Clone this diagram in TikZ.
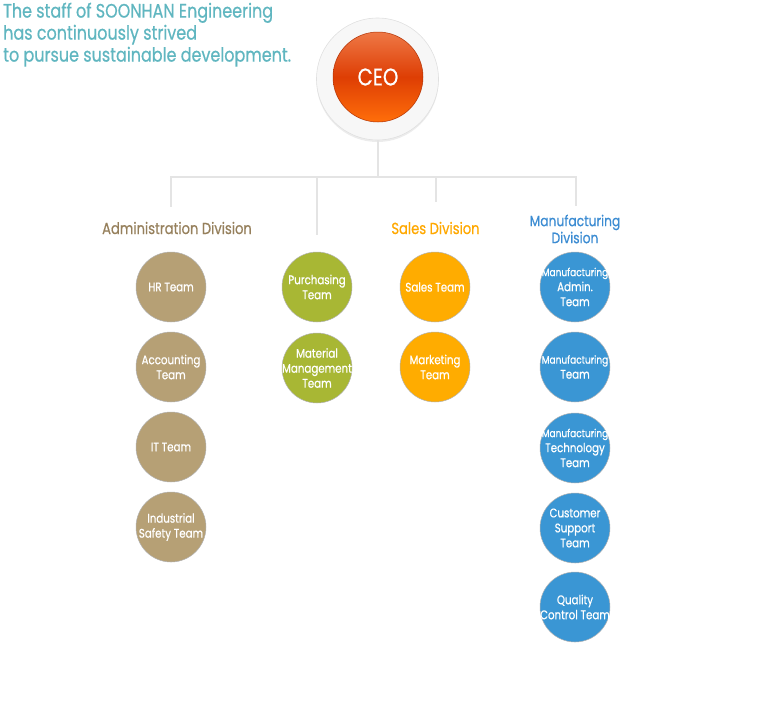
\documentclass[tikz,border=0pt]{standalone}
\usepackage{fontspec}
\setmainfont{Poppins}[FakeStretch=0.82, FakeBold=0.6]
\usetikzlibrary{shadows}
\definecolor{titlec}{RGB}{96,182,192}
\definecolor{tanc}{RGB}{182,160,117}
\definecolor{olivec}{RGB}{168,183,52}
\definecolor{orangec}{RGB}{255,172,0}
\definecolor{bluec}{RGB}{58,150,212}
\definecolor{admtext}{RGB}{150,128,92}
\definecolor{saltext}{RGB}{255,168,0}
\definecolor{mantext}{RGB}{60,140,210}
\definecolor{linec}{RGB}{228,228,228}
\definecolor{ceotop}{RGB}{238,120,70}
\definecolor{ceomid}{RGB}{222,62,4}
\definecolor{ceobot}{RGB}{255,110,10}
\newcommand{\manuword}{{\fontsize{11}{15}\selectfont Manufacturing}}
\begin{document}
\begin{tikzpicture}[x=1pt,y=-1pt,
  team/.style={circle, minimum size=70pt, inner sep=0pt, draw=black!30, line width=0.5pt},
  teamtext/.style={text=white, align=center, inner sep=0pt, font=\fontsize{12.5}{15}\selectfont},
  conn/.style={draw=linec, line width=2pt},
  divlabel/.style={font=\fontsize{16}{17}\selectfont, align=center, inner sep=0pt}
]
\useasboundingbox (0,0) rectangle (757,721);

% title
\node[anchor=north west, align=left, inner sep=0pt, text=titlec,
      font=\fontsize{19.5}{22}\selectfont] (title) at (3,2.5)
  {The staff of SOONHAN Engineering\\has continuously strived\\to pursue sustainable development.};

% CEO
\node[circle, minimum size=122pt, inner sep=0pt, fill=black!3, draw=black!12, line width=0.6pt,
      drop shadow={opacity=0.15, shadow xshift=0pt, shadow yshift=-2pt}] (ceoring) at (377.5,79) {};
\node[circle, minimum size=90pt, inner sep=0pt, top color=ceotop, bottom color=ceobot,
      middle color=ceomid, draw=ceomid!80!black, line width=0.5pt, text=white,
      font=\fontsize{24}{26}\selectfont] (ceo) at (378,77) {CEO};

% connector coordinates
\coordinate (hub) at (377.5,177);
\coordinate (jA) at (171,177);
\coordinate (eA) at (171,207);
\coordinate (jP) at (317,177);
\coordinate (eP) at (317,235);
\coordinate (jS) at (435.5,177);
\coordinate (eS) at (435.5,202);
\coordinate (jM) at (576,177);
\coordinate (eM) at (576,206);

\draw[conn] (ceoring.south) -- (hub);
\draw[conn] (eA) -- (jA) -- (jM) -- (eM);
\draw[conn] (jP) -- (eP);
\draw[conn] (jS) -- (eS);

% division labels
\node[divlabel, text=admtext] (divA) at (177,228) {Administration Division};
\node[divlabel, text=saltext] (divS) at (435.5,228) {Sales Division};
\node[divlabel, text=mantext, font=\fontsize{15}{17}\selectfont] (divM) at (575,229) {Manufacturing\\Division};

% Administration
\node[team, fill=tanc, label={[teamtext]center:HR Team}] (hr) at (171,287) {};
\node[team, fill=tanc, label={[teamtext]center:Accounting\\Team}] (acc) at (171,367) {};
\node[team, fill=tanc, label={[teamtext]center:IT Team}] (it) at (171,447) {};
\node[team, fill=tanc, label={[teamtext]center:Industrial\\Safety Team}] (ind) at (171,527) {};

% Purchasing / material
\node[team, fill=olivec, label={[teamtext]center:Purchasing\\Team}] (pur) at (317,287) {};
\node[team, fill=olivec, label={[teamtext]center:Material\\Management\\Team}] (mat) at (317,368) {};

% Sales
\node[team, fill=orangec, label={[teamtext]center:Sales Team}] (sal) at (435,287) {};
\node[team, fill=orangec, label={[teamtext]center:Marketing\\Team}] (mkt) at (435,367) {};

% Manufacturing
\node[team, fill=bluec, label={[teamtext]center:\manuword\\Admin.\\Team}] (ma) at (575,287) {};
\node[team, fill=bluec, label={[teamtext]center:\manuword\\Team}] (mt) at (575,367) {};
\node[team, fill=bluec, label={[teamtext]center:\manuword\\Technology\\Team}] (mtt) at (575,448) {};
\node[team, fill=bluec, label={[teamtext]center:Customer\\Support\\Team}] (cs) at (575,528) {};
\node[team, fill=bluec, label={[teamtext]center:Quality\\Control Team}] (qc) at (575,607) {};
\end{tikzpicture}
\end{document}
